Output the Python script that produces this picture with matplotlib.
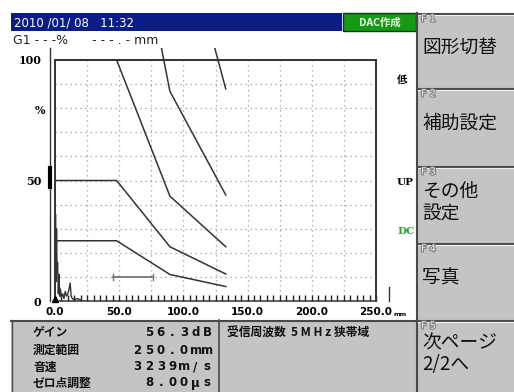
import matplotlib
matplotlib.use("Agg")
from matplotlib import pyplot as plt
from matplotlib import patches
from matplotlib import patheffects
import numpy as np

plt.rcParams['font.family'] = ['Noto Sans CJK JP', 'DejaVu Sans']

W, H = 514, 392

# --- values ---
date_text = "2010 /01/ 08   11:32"
mode_text = "DAC作成"
gate_text = "G1 - - -%      - - - . - mm"

x_ticks = [0, 50, 100, 150, 200, 250]
x_tick_labels = ["0.0", "50.0", "100.0", "150.0", "200.0", "250.0"]
y_ticks = [0, 50, 100]
y_tick_labels = ["0", "50", "100"]
grid_x = [25, 50, 75, 100, 125, 150, 175, 200, 225]
grid_y = [10, 20, 30, 40, 50, 60, 70, 80, 90]

# DAC curve break points (mm) and the five curves (% FSH)
dac_mm = [0, 48, 89.5, 133]
dac_low = [25, 25, 11, 6]
dac_mid = [50, 50, 22.5, 11.2]
dac_ref = [100, 100, 43.5, 22.5]
dac_high = [200, 200, 87, 44]
dac_top = [400, 400, 174, 88]

# gate bar
gate_start, gate_end, gate_level = 45, 76, 10

# echo near the surface
echo_mm = [0.0, 0.4, 0.8, 1.2, 1.6, 2.0, 2.6, 3.2, 3.6, 4.2, 5.0, 6.0,
           7.0, 8.0, 9.0, 10.0, 11.0, 11.8, 12.6, 13.5, 15.0, 17.0, 20.0]
echo_amp = [2, 36, 8, 30, 12, 16, 3, 11, 2, 5, 1.5, 3,
            1, 4, 2, 3, 5, 7.5, 2, 1, 0.5, 1, 0.5]

fkeys = ["F 1", "F 2", "F 3", "F 4", "F 5"]
fkey_texts = ["図形切替", "補助設定", "その他\n設定", "写真", "次ページ\n2/2へ"]
fkey_tops = [13, 88, 166, 243, 320]
fkey_bottoms = [88, 166, 243, 320, 392]

info_names = ["ゲイン", "測定範囲", "音速", "ゼロ点調整"]
info_values = ["56.3dB", "250.0mm", "3239m/s", "8.00μs"]
probe_text = "受信周波数  5 M H z 狭帯域"

right_marks = ["低", "UP", "DC"]
right_mark_colors = ["black", "black", "#2aa02a"]

fig = plt.figure(figsize=(W / 100, H / 100), dpi=100)
fig.patch.set_facecolor("white")

# UI layer in pixel coordinates
ui = fig.add_axes([0, 0, 1, 1])
ui.set_xlim(0, W)
ui.set_ylim(H, 0)
ui.axis("off")

panel_gray = "#c4c4c4"
edge_dark = "#4a4a4a"

# title bar
ui.add_patch(patches.Rectangle((11, 13), 331, 18, facecolor="#0b1d84",
                               edgecolor="none"))
ui.text(14, 22.5, date_text, color="white", fontsize=8.5, va="center",
        ha="left", family="DejaVu Sans")
ui.add_patch(patches.Rectangle((343, 13), 73, 18, facecolor="#169a16",
                               edgecolor="#0a3a0a", lw=1))
ui.text(380, 22.5, mode_text, color="#e8ffe0", fontsize=7.5, va="center",
        ha="center", weight="bold")
ui.text(13, 40, gate_text, fontsize=9, va="center", ha="left",
        family="DejaVu Sans", color="#222222")

# function key panel
for name, txt, top, bot in zip(fkeys, fkey_texts, fkey_tops, fkey_bottoms):
    ui.add_patch(patches.Rectangle((417, top), W - 417, bot - top,
                                   facecolor=panel_gray, edgecolor="none"))
    ui.plot([417, W], [top + 0.5, top + 0.5], color=edge_dark, lw=1.5)
    ui.plot([418, W], [top + 2, top + 2], color="#f0f0f0", lw=0.8)
    ui.text(421, top + 5.5, name, fontsize=7, va="center", ha="left",
            color="#f4f4f4", family="DejaVu Sans",
            path_effects=[patheffects.withStroke(linewidth=1.5,
                                                 foreground="#7a7a7a")])
    nlines = txt.count("\n") + 1
    if nlines == 1:
        ty = top + (bot - top) * 0.45
    else:
        ty = top + (bot - top) * 0.47
    ui.text(422, ty, txt, fontsize=13.5, va="center", ha="left",
            color="#111111", linespacing=1.05)
ui.plot([416.5, 416.5], [13, H], color=edge_dark, lw=1.5)

# info panel at the bottom
ui.add_patch(patches.Rectangle((11, 320), 406, H - 320, facecolor=panel_gray,
                               edgecolor="none"))
ui.plot([11, 417], [320.5, 320.5], color=edge_dark, lw=1.5)
ui.plot([11.5, 11.5], [320, H], color=edge_dark, lw=1)
ui.plot([218.5, 218.5], [320, H], color=edge_dark, lw=1.2)
rows_y = [333, 350, 367, 383]
pitch = 11.6
for name, val, ry in zip(info_names, info_values, rows_y):
    ui.text(33, ry, name, fontsize=8.5, va="center", ha="left",
            color="#111111", weight="bold")
    n = len(val)
    for i, ch in enumerate(val):
        cx = 213 - (n - i - 0.5) * pitch
        ui.text(cx, ry, ch, fontsize=8.5, va="center", ha="center",
                color="#111111", family="DejaVu Sans", weight="bold")
ui.text(227, 333, probe_text, fontsize=8.5, va="center", ha="left",
        color="#111111", weight="bold")

# right side markers
for mark, col, my in zip(right_marks, right_mark_colors, [80, 182, 231]):
    ui.text(397, my, mark, fontsize=7.5, va="center", ha="left", color=col,
            weight="bold", family=["DejaVu Serif", "Noto Sans CJK JP"])

# "%" and the small unit next to 250.0
ui.text(45, 110, "%", fontsize=8, va="center", ha="right",
        family="DejaVu Serif", weight="bold")
ui.text(394, 314, "mm", fontsize=4.5, va="center", ha="left",
        family="DejaVu Sans", weight="bold")

# left gauge line with level bar, small right stub
ui.plot([49.5, 49.5], [48, 301], color="#333333", lw=1)
ui.plot([50, 50], [168, 187], color="black", lw=3)
ui.plot([388.5, 388.5], [287, 301], color="#333333", lw=1)

# A-scan plot area
ax = fig.add_axes([55 / W, 1 - 301 / H, (376 - 55) / W, (301 - 60) / H])
ax.set_xlim(0, 250)
ax.set_ylim(0, 100)
ax.patch.set_alpha(0)

for gx in grid_x:
    ax.axvline(gx, color="#9a9a9a", lw=0.9, ls=(0, (1, 3)), zorder=1)
for gy in grid_y:
    ax.axhline(gy, color="#9a9a9a", lw=0.9, ls=(0, (1, 3)), zorder=1)

clip = patches.Rectangle((0, 0), 250, 105, transform=ax.transData,
                         facecolor="none", edgecolor="none")
for curve in [dac_low, dac_mid, dac_ref, dac_high, dac_top]:
    ln, = ax.plot(dac_mm, curve, color="#333333", lw=1.1, zorder=3)
    ln.set_clip_path(clip)

ax.plot([gate_start, gate_end], [gate_level, gate_level], color="#777777",
        lw=1.3, zorder=3)
ax.plot([gate_start, gate_start], [gate_level - 1.2, gate_level + 1.2],
        color="#777777", lw=1, zorder=3)
ax.plot([gate_end, gate_end], [gate_level - 1.2, gate_level + 1.2],
        color="#777777", lw=1, zorder=3)

ax.plot(echo_mm, echo_amp, color="#333333", lw=1, zorder=4, clip_on=False)
ax.plot([0], [0.8], marker="^", color="black", ms=4, clip_on=False, zorder=5)

for side in ["top", "left", "right", "bottom"]:
    ax.spines[side].set_color("#333333")
    ax.spines[side].set_linewidth(1.4)
ax.spines["bottom"].set_linewidth(1.1)

ax.set_xticks(x_ticks, labels=x_tick_labels)
ax.set_xticks(np.arange(0, 251, 5), minor=True)
ax.tick_params(axis="x", which="both", direction="in", length=4, width=1,
               color="#222222", pad=4, labelsize=7.5)
for lab in ax.get_xticklabels():
    lab.set_family("DejaVu Sans")
    lab.set_weight("bold")
ax.set_yticks(y_ticks, labels=y_tick_labels)
ax.tick_params(axis="y", length=0, pad=10, labelsize=8)
for lab in ax.get_yticklabels():
    lab.set_family("DejaVu Serif")
    lab.set_weight("bold")

fig.savefig("out.png", dpi=100)
